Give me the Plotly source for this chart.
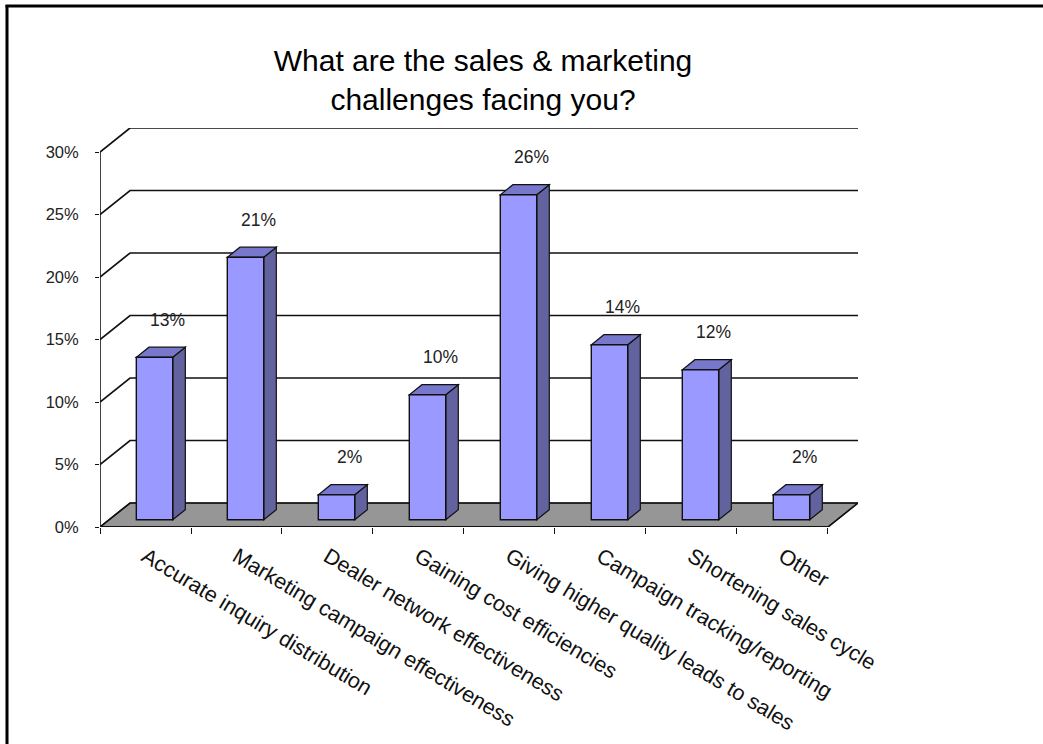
import plotly.graph_objects as go

# Survey results
CATEGORIES = [
    "Accurate inquiry distribution",
    "Marketing campaign effectiveness",
    "Dealer network effectiveness",
    "Gaining cost efficiencies",
    "Giving higher quality leads to sales",
    "Campaign tracking/reporting",
    "Shortening sales cycle",
    "Other",
]
VALUES = [13, 21, 2, 10, 26, 14, 12, 2]
Y_TICKS = [0, 5, 10, 15, 20, 25, 30]
TITLE = "What are the sales &amp; marketing<br>challenges facing you?"

# Oblique projection of the depth axis, expressed in data units
DEPTH_X = 0.33      # in categories
DEPTH_Y = 1.92      # in percentage points
FRONT, BACK = 0.30, 0.72   # depth fractions occupied by each column
BAR_W = 0.40

FRONT_COLOR = "#9999FF"
TOP_COLOR = "#7777CC"
SIDE_COLOR = "#62629F"
FLOOR_COLOR = "#969696"
FONT = "Liberation Sans, Arial, sans-serif"

n = len(CATEGORIES)
x_lo, x_hi = -0.5, n - 0.5
y_top = max(Y_TICKS)

shapes = []

# floor
shapes.append(dict(
    type="path", layer="below",
    path=(f"M {x_lo},0 L {x_hi},0 L {x_hi + DEPTH_X},{DEPTH_Y} "
          f"L {x_lo + DEPTH_X},{DEPTH_Y} Z"),
    fillcolor=FLOOR_COLOR, line=dict(color="#222", width=1.2),
))

# side-wall diagonals and back-wall gridlines
for t in Y_TICKS:
    shapes.append(dict(
        type="path", layer="below",
        path=(f"M {x_lo},{t} L {x_lo + DEPTH_X},{t + DEPTH_Y} "
              f"L {x_hi + DEPTH_X},{t + DEPTH_Y}"),
        line=dict(color="#111", width=1.7),
    ))

# value axis line and category axis line
shapes.append(dict(type="line", layer="below", x0=x_lo, x1=x_lo, y0=0, y1=y_top,
                   line=dict(color="#111", width=1.6)))
shapes.append(dict(type="line", layer="above", x0=x_lo, x1=x_hi, y0=0, y1=0,
                   line=dict(color="#111", width=2.2)))
shapes.append(dict(type="line", layer="above", x0=x_hi, x1=x_hi + DEPTH_X,
                   y0=0, y1=DEPTH_Y, line=dict(color="#111", width=1.6)))

# side and top faces of each column
base = FRONT * DEPTH_Y
ddx = (BACK - FRONT) * DEPTH_X
ddy = (BACK - FRONT) * DEPTH_Y
for i, v in enumerate(VALUES):
    x0 = i + FRONT * DEPTH_X - BAR_W / 2
    x1 = x0 + BAR_W
    top = base + v
    shapes.append(dict(
        type="path", layer="below",
        path=(f"M {x1},{base} L {x1 + ddx},{base + ddy} "
              f"L {x1 + ddx},{top + ddy} L {x1},{top} Z"),
        fillcolor=SIDE_COLOR, line=dict(color="#111", width=1.2),
    ))
    shapes.append(dict(
        type="path", layer="below",
        path=(f"M {x0},{top} L {x1},{top} L {x1 + ddx},{top + ddy} "
              f"L {x0 + ddx},{top + ddy} Z"),
        fillcolor=TOP_COLOR, line=dict(color="#111", width=1.2),
    ))

# slide frame (left and top edges)
W, H = 1043, 744
ML, MR, MT, MB = 100, 185, 128, 217
pw, ph = W - ML - MR, H - MT - MB


def px(xp):
    return (xp - ML) / pw


def py(yp):
    return (H - MB - yp) / ph


shapes.append(dict(type="line", xref="paper", yref="paper",
                   x0=px(7), x1=px(7), y0=py(5), y1=py(H),
                   line=dict(color="black", width=3)))
shapes.append(dict(type="line", xref="paper", yref="paper",
                   x0=px(5.5), x1=px(W), y0=py(6), y1=py(6),
                   line=dict(color="black", width=3)))

fig = go.Figure()
fig.add_trace(go.Bar(
    x=CATEGORIES, y=VALUES, base=base,
    offset=FRONT * DEPTH_X - BAR_W / 2, width=BAR_W,
    marker=dict(color=FRONT_COLOR, line=dict(color="#111", width=1.4)),
    hoverinfo="skip", showlegend=False,
))

annotations = [
    dict(x=i + FRONT * DEPTH_X + 0.14, y=base + v + 3.0, text=f"{v}%",
         showarrow=False, font=dict(family=FONT, size=17.5, color="#222"))
    for i, v in enumerate(VALUES)
]

fig.update_layout(
    width=W, height=H,
    margin=dict(l=ML, r=MR, t=MT, b=MB, autoexpand=False),
    paper_bgcolor="white", plot_bgcolor="white",
    title=dict(text=TITLE, x=483 / W, xref="container", xanchor="center",
               y=1 - 71 / H, yref="container", yanchor="middle",
               font=dict(family=FONT, size=30, color="black")),
    shapes=shapes, annotations=annotations,
    xaxis=dict(type="category", range=[x_lo, x_hi + DEPTH_X],
               tickson="boundaries", ticks="outside", ticklen=6, tickwidth=1.4,
               tickcolor="#111", tickangle=31, ticklabelstandoff=12,
               showgrid=False, showline=False, zeroline=False,
               tickfont=dict(family=FONT, size=21.5, color="#111")),
    yaxis=dict(range=[0, y_top + DEPTH_Y], tickvals=Y_TICKS,
               ticktext=[f"{t}%" for t in Y_TICKS], ticks="outside", ticklen=4,
               tickwidth=1.4, tickcolor="#111", ticklabelstandoff=13,
               showgrid=False, showline=False, zeroline=False,
               tickfont=dict(family=FONT, size=16.5, color="#222")),
    showlegend=False,
)

fig.write_html("out.html")
